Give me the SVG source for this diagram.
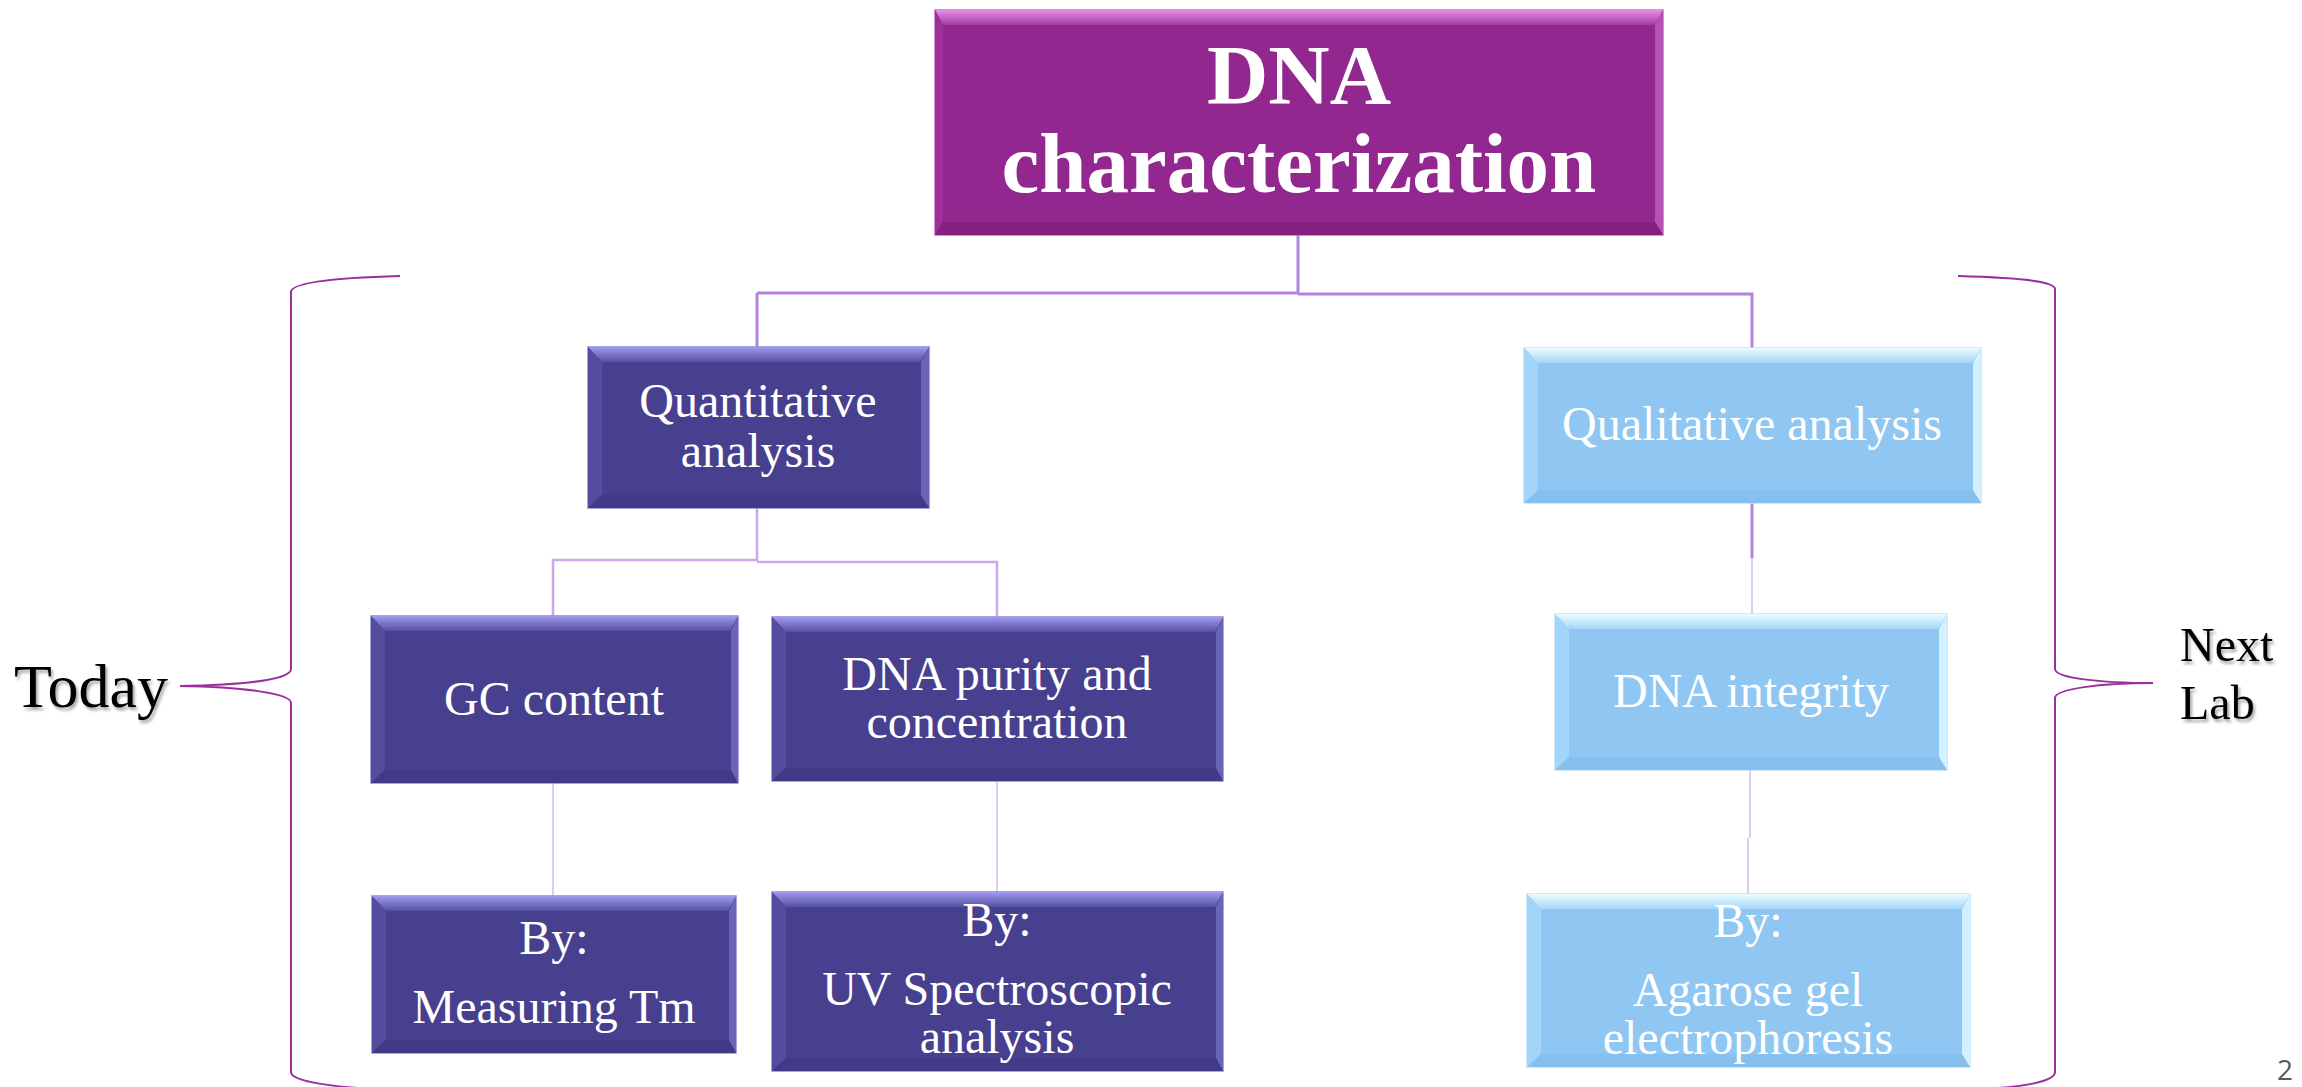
<svg xmlns="http://www.w3.org/2000/svg" width="2302" height="1087" viewBox="0 0 2302 1087">
<defs>
<linearGradient id="pTop" x1="0" y1="0" x2="0" y2="1"><stop offset="0" stop-color="#e690e6"/><stop offset="1" stop-color="#a43aa2"/></linearGradient>
<linearGradient id="dTop" x1="0" y1="0" x2="0" y2="1"><stop offset="0" stop-color="#a09af0"/><stop offset="1" stop-color="#5650a2"/></linearGradient>
<linearGradient id="lTop" x1="0" y1="0" x2="0" y2="1"><stop offset="0" stop-color="#ebfcff"/><stop offset="1" stop-color="#a4d6f8"/></linearGradient>
<filter id="sh" x="-10%" y="-10%" width="130%" height="140%"><feDropShadow dx="2" dy="3" stdDeviation="1.5" flood-color="#000" flood-opacity="0.35"/></filter>
</defs>
<style>
.t{font-family:"Liberation Serif","Times New Roman",serif;fill:#fff;text-anchor:middle;font-size:48px}
.big{font-weight:bold;font-size:85px}
.side{font-family:"Liberation Serif","Times New Roman",serif;fill:#000;filter:url(#sh)}
.p .base{fill:#92278f;stroke:#c76fc5;stroke-width:1.5}
.p .tp{fill:url(#pTop)}.p .lf{fill:#9d3199}.p .rt{fill:#b552b3}.p .bt{fill:#86207f}
.d .base{fill:#47408e;stroke:#8e88d6;stroke-width:1.5}
.d .tp{fill:url(#dTop)}.d .lf{fill:#534c9f}.d .rt{fill:#6a64b8}.d .bt{fill:#413a86}
.l .base{fill:#8fc7f2;stroke:#bfe4fb;stroke-width:1.5}
.l .tp{fill:url(#lTop)}.l .lf{fill:#a2d5f9}.l .rt{fill:#d2f1ff}.l .bt{fill:#86c0ee}
.c1{fill:none;stroke:#b384dd;stroke-width:3}
.c2{fill:none;stroke:#c9a9ea;stroke-width:2.5}
.c3{fill:none;stroke:#dccdf1;stroke-width:2}
.br{fill:none;stroke:#9c2e9c;stroke-width:2}
</style>
<rect width="2302" height="1087" fill="#fff"/>

<g id="connectors">
<path class="c1" d="M1298,235 V293 M757,293 H1298 M757,293 V347 M1298,294 H1752 V348"/>
<path class="c2" d="M757,508 V560 H553 V617 M757,562 H997 V617"/>
<path class="c1" d="M1752,503 V558"/>
<path class="c3" d="M1752,558 V614"/>
<path class="c3" d="M553,783 V896 M997,781 V892 M1750,770 V838 M1748,838 V894"/>
</g>

<g id="brackets">
<path class="br" d="M400,276 C330,278 291,283 291,292 L291,669 C291,680 240,685 180,686 C240,687 291,693 291,703 L291,1072 C291,1081 330,1088 400,1090"/>
<path class="br" d="M1958,276 C2028,278 2055,282 2055,289 L2055,669 C2055,678 2100,683 2153,683 C2100,683 2055,689 2055,698 L2055,1072 C2055,1081 2028,1088 1958,1090"/>
</g>

<g id="n-top" class="p">
<rect class="base" x="935" y="10" width="728" height="225"/>
<polygon class="tp" points="935,10 1663,10 1655,25 943,25"/>
<polygon class="lf" points="935,10 943,25 943,222 935,235"/>
<polygon class="rt" points="1663,10 1663,235 1655,222 1655,25"/>
<polygon class="bt" points="935,235 943,222 1655,222 1663,235"/>
<text class="t big" x="1299" y="104">DNA</text>
<text class="t big" x="1299" y="192">characterization</text>
</g>

<g id="n-quant" class="d">
<rect class="base" x="588" y="347" width="341" height="161"/>
<polygon class="tp" points="588,347 929,347 920,362 602,362"/>
<polygon class="lf" points="588,347 602,362 602,495 588,508"/>
<polygon class="rt" points="929,347 929,508 921,496 921,362"/>
<polygon class="bt" points="588,508 602,495 921,495 929,508"/>
<text class="t" x="758" y="417">Quantitative</text>
<text class="t" x="758" y="467">analysis</text>
</g>

<g id="n-qual" class="l">
<rect class="base" x="1524" y="348" width="457" height="155"/>
<polygon class="tp" points="1524,348 1981,348 1972,363 1538,363"/>
<polygon class="lf" points="1524,348 1538,363 1538,490 1524,503"/>
<polygon class="rt" points="1981,348 1981,503 1973,491 1973,363"/>
<polygon class="bt" points="1524,503 1538,490 1973,490 1981,503"/>
<text class="t" x="1752" y="440">Qualitative analysis</text>
</g>

<g id="n-gc" class="d">
<rect class="base" x="371" y="616" width="367" height="167"/>
<polygon class="tp" points="371,616 738,616 730,631 385,631"/>
<polygon class="lf" points="371,616 385,631 385,770 371,783"/>
<polygon class="rt" points="738,616 738,783 731,771 731,631"/>
<polygon class="bt" points="371,783 385,770 731,770 738,783"/>
<text class="t" x="554" y="715">GC content</text>
</g>

<g id="n-purity" class="d">
<rect class="base" x="772" y="617" width="451" height="164"/>
<polygon class="tp" points="772,617 1223,617 1215,632 786,632"/>
<polygon class="lf" points="772,617 786,632 786,768 772,781"/>
<polygon class="rt" points="1223,617 1223,781 1216,769 1216,632"/>
<polygon class="bt" points="772,781 786,768 1216,768 1223,781"/>
<text class="t" x="997" y="690">DNA purity and</text>
<text class="t" x="997" y="738">concentration</text>
</g>

<g id="n-integrity" class="l">
<rect class="base" x="1555" y="614" width="392" height="156"/>
<polygon class="tp" points="1555,614 1947,614 1938,629 1569,629"/>
<polygon class="lf" points="1555,614 1569,629 1569,757 1555,770"/>
<polygon class="rt" points="1947,614 1947,770 1939,758 1939,629"/>
<polygon class="bt" points="1555,770 1569,757 1939,757 1947,770"/>
<text class="t" x="1751" y="707">DNA integrity</text>
</g>

<g id="n-tm" class="d">
<rect class="base" x="372" y="896" width="364" height="157"/>
<polygon class="tp" points="372,896 736,896 728,911 386,911"/>
<polygon class="lf" points="372,896 386,911 386,1040 372,1053"/>
<polygon class="rt" points="736,896 736,1053 729,1041 729,911"/>
<polygon class="bt" points="372,1053 386,1040 729,1040 736,1053"/>
<text class="t" x="554" y="954">By:</text>
<text class="t" x="554" y="1023">Measuring Tm</text>
</g>

<g id="n-uv" class="d">
<rect class="base" x="772" y="892" width="451" height="179"/>
<polygon class="tp" points="772,892 1223,892 1215,907 786,907"/>
<polygon class="lf" points="772,892 786,907 786,1058 772,1071"/>
<polygon class="rt" points="1223,892 1223,1071 1216,1059 1216,907"/>
<polygon class="bt" points="772,1071 786,1058 1216,1058 1223,1071"/>
<text class="t" x="997" y="936">By:</text>
<text class="t" x="997" y="1005">UV Spectroscopic</text>
<text class="t" x="997" y="1053">analysis</text>
</g>

<g id="n-agarose" class="l">
<rect class="base" x="1527" y="894" width="443" height="173"/>
<polygon class="tp" points="1527,894 1970,894 1961,909 1541,909"/>
<polygon class="lf" points="1527,894 1541,909 1541,1054 1527,1067"/>
<polygon class="rt" points="1970,894 1970,1067 1962,1055 1962,909"/>
<polygon class="bt" points="1527,1067 1541,1054 1962,1054 1970,1067"/>
<text class="t" x="1748" y="937">By:</text>
<text class="t" x="1748" y="1006">Agarose gel</text>
<text class="t" x="1748" y="1054">electrophoresis</text>
</g>

<g id="labels">
<text class="side" x="14" y="707" font-size="62">Today</text>
<text class="side" x="2180" y="661" font-size="48">Next</text>
<text class="side" x="2180" y="719" font-size="48">Lab</text>
<text x="2277" y="1080" font-family="'Open Sans','DejaVu Sans',sans-serif" font-size="28" fill="#595959">2</text>
</g>
</svg>
